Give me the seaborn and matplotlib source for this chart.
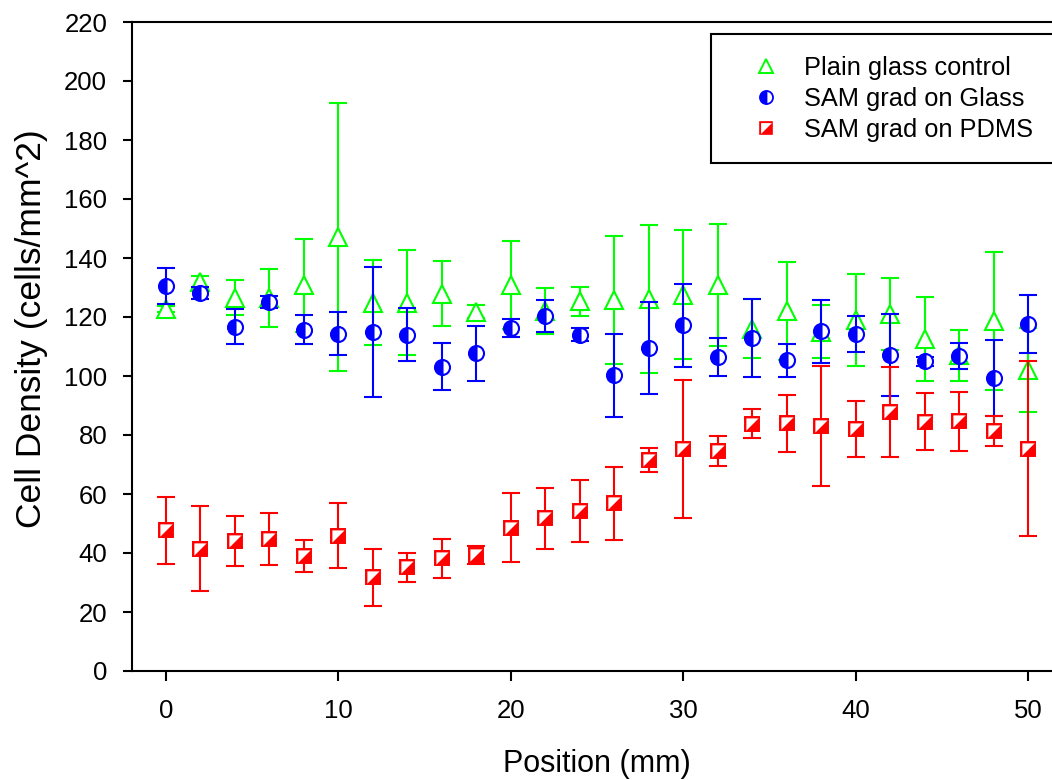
import numpy as np
import pandas as pd
import matplotlib
matplotlib.use("Agg")
import matplotlib.pyplot as plt
import seaborn as sns
from matplotlib.lines import Line2D
from matplotlib.legend_handler import HandlerTuple

# ---------------- data ----------------
positions = [0, 2, 4, 6, 8, 10, 12, 14, 16, 18, 20, 22, 24, 26, 28, 30,
             32, 34, 36, 38, 40, 42, 44, 46, 48, 50]

plain_mean = [122.6, 132.0, 126.6, 126.5, 130.7, 147.2, 124.9, 124.9, 127.9, 121.8,
              130.8, 121.9, 125.3, 125.8, 126.1, 127.6, 130.8, 116.0, 122.1, 115.0,
              119.0, 121.0, 112.6, 107.0, 118.6, 102.0]
plain_err = [1.0, 1.8, 6.0, 9.8, 15.7, 45.5, 14.4, 17.8, 11.0, 2.3,
             15.0, 7.8, 5.0, 21.8, 25.0, 21.9, 20.7, 10.0, 16.7, 9.0,
             15.5, 12.2, 14.3, 8.6, 23.3, 14.2]

glass_mean = [130.5, 128.2, 116.7, 125.2, 115.7, 114.3, 114.9, 114.0, 103.2, 107.7,
              116.3, 120.4, 114.0, 100.3, 109.5, 117.2, 106.4, 113.0, 105.3, 115.1,
              114.2, 107.1, 105.0, 106.7, 99.3, 117.7]
glass_err = [6.1, 2.1, 5.9, 2.0, 5.0, 7.3, 21.9, 8.9, 7.9, 9.3,
             3.0, 5.4, 2.2, 14.1, 15.7, 14.0, 6.4, 13.2, 5.5, 10.6,
             6.2, 13.8, 1.5, 4.4, 12.9, 9.8]

pdms_mean = [47.7, 41.5, 44.1, 44.8, 39.0, 45.9, 31.7, 35.1, 38.2, 39.4,
             48.5, 51.7, 54.2, 56.8, 71.4, 75.3, 74.5, 83.8, 84.0, 83.1,
             82.1, 87.9, 84.5, 84.7, 81.4, 75.4]
pdms_err = [11.4, 14.4, 8.5, 8.9, 5.4, 10.9, 9.6, 5.0, 6.6, 3.0,
            11.7, 10.5, 10.6, 12.4, 4.1, 23.5, 5.0, 4.9, 9.6, 20.4,
            9.5, 15.3, 9.6, 10.0, 5.0, 29.7]

series_labels = ["Plain glass control", "SAM grad on Glass", "SAM grad on PDMS"]
x_ticks = [0, 10, 20, 30, 40, 50]
y_ticks = [0, 20, 40, 60, 80, 100, 120, 140, 160, 180, 200, 220]

GREEN = "#00ff00"
BLUE = "#0000ff"
RED = "#ff0000"

# ---------------- style ----------------
sns.set_style("ticks")
plt.rcParams["font.family"] = ["Liberation Sans", "DejaVu Sans"]
plt.rcParams["text.color"] = "black"
plt.rcParams["axes.labelcolor"] = "black"
plt.rcParams["xtick.color"] = "black"
plt.rcParams["ytick.color"] = "black"

fig = plt.figure(figsize=(10.52, 7.80), dpi=100)
ax = fig.add_axes([131.5 / 1052, 109 / 780, 931 / 1052, 649 / 780])

df_p = pd.DataFrame({"Position": positions, "Density": plain_mean, "Err": plain_err})
df_g = pd.DataFrame({"Position": positions, "Density": glass_mean, "Err": glass_err})
df_d = pd.DataFrame({"Position": positions, "Density": pdms_mean, "Err": pdms_err})

cap = 6.5
elw = 1.5

# Plain glass control
ax.errorbar(df_p["Position"], df_p["Density"], yerr=df_p["Err"], fmt="none",
            ecolor=GREEN, elinewidth=elw, capsize=cap, capthick=elw, zorder=2)
sns.lineplot(data=df_p, x="Position", y="Density", ax=ax, errorbar=None,
             color=GREEN, marker="^", markersize=13, markerfacecolor="white",
             markeredgecolor=GREEN, markeredgewidth=1.5, linestyle="", zorder=3,
             legend=False)

# SAM grad on Glass
ax.errorbar(df_g["Position"], df_g["Density"], yerr=df_g["Err"], fmt="none",
            ecolor=BLUE, elinewidth=elw, capsize=cap, capthick=elw, zorder=4)
sns.lineplot(data=df_g, x="Position", y="Density", ax=ax, errorbar=None,
             color=BLUE, marker="o", markersize=10.8, fillstyle="left",
             markerfacecolor=BLUE, markerfacecoloralt="white",
             markeredgecolor=BLUE, markeredgewidth=1.5, linestyle="", zorder=5,
             legend=False)

# SAM grad on PDMS
ax.errorbar(df_d["Position"], df_d["Density"], yerr=df_d["Err"], fmt="none",
            ecolor=RED, elinewidth=elw, capsize=cap, capthick=elw, zorder=6)
sns.lineplot(data=df_d, x="Position", y="Density", ax=ax, errorbar=None,
             color=RED, marker="s", markersize=10.3, markerfacecolor=RED,
             markeredgecolor=RED, markeredgewidth=1.4, linestyle="", zorder=7,
             legend=False)
tri_ul = [(-1, -1), (-1, 1), (1, 1), (-1, -1)]
sns.lineplot(data=df_d, x="Position", y="Density", ax=ax, errorbar=None,
             color="white", marker=tri_ul, markersize=8.8, markerfacecolor="white",
             markeredgewidth=0, linestyle="", zorder=8, legend=False)

# ---------------- axes ----------------
ax.set_xlim(-2, 52)
ax.set_ylim(0, 220)
ax.set_xticks(x_ticks)
ax.set_yticks(y_ticks)
ax.tick_params(axis="both", direction="out", width=1.5, colors="black",
               labelsize=18.5)
ax.tick_params(axis="x", length=7, pad=13)
ax.tick_params(axis="y", length=6.5, pad=11)
for s in ["left", "bottom", "top"]:
    ax.spines[s].set_visible(True)
    ax.spines[s].set_linewidth(1.5)
    ax.spines[s].set_color("black")
ax.spines["right"].set_visible(False)

ax.set_xlabel("Position (mm)", fontsize=22, labelpad=19)
ax.set_ylabel("Cell Density (cells/mm^2)", fontsize=25.5)
ax.yaxis.set_label_coords(-0.09, 0.527)

# ---------------- legend ----------------
h1 = Line2D([], [], linestyle="", marker="^", markersize=10.5, markerfacecolor="white",
            markeredgecolor=GREEN, markeredgewidth=1.4)
h2 = Line2D([], [], linestyle="", marker="o", markersize=9.4, fillstyle="left",
            markerfacecolor=BLUE, markerfacecoloralt="white",
            markeredgecolor=BLUE, markeredgewidth=1.3)
h3a = Line2D([], [], linestyle="", marker="s", markersize=9.0, markerfacecolor=RED,
             markeredgecolor=RED, markeredgewidth=1.2)
h3b = Line2D([], [], linestyle="", marker=tri_ul, markersize=7.8,
             markerfacecolor="white", markeredgewidth=0)

leg = ax.legend([h1, h2, (h3a, h3b)], series_labels,
                handler_map={tuple: HandlerTuple(ndivide=1, pad=0)},
                loc="upper left", bbox_to_anchor=(0.6225, 0.9815),
                borderaxespad=0, fontsize=18.3, frameon=True, fancybox=False,
                edgecolor="black", framealpha=1, borderpad=0.85,
                handlelength=2.65, handletextpad=0.15, labelspacing=0.28,
                numpoints=1)
leg.get_frame().set_linewidth(1.5)

fig.savefig("out.png", dpi=100)
